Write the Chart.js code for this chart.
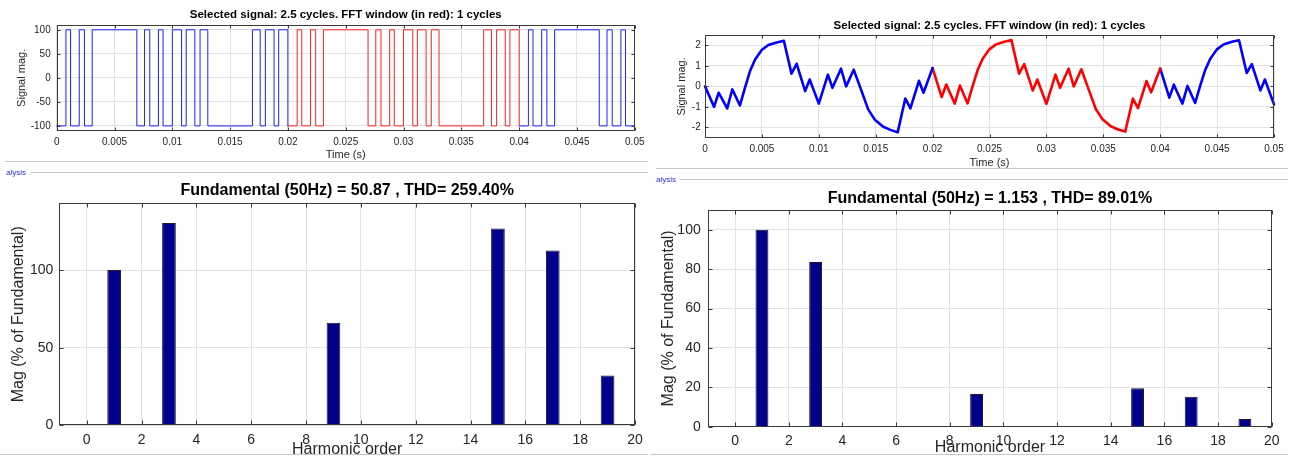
<!DOCTYPE html>
<html><head><meta charset="utf-8">
<script src="https://cdn.jsdelivr.net/npm/chart.js@4.4.1/dist/chart.umd.min.js"></script>
<style>
body{margin:0;width:1297px;height:458px;background:#fff;position:relative;overflow:hidden;font-family:'Liberation Sans',Arial,sans-serif}
canvas{position:absolute}
.hl{position:absolute;height:1px;background:#c8c8c8}
.tag{position:absolute;font-size:8px;line-height:9px;color:#3838d0;font-family:'Liberation Sans',Arial,sans-serif}
</style></head><body>
<div class="hl" style="left:5px;top:161px;width:643px"></div>
<div class="hl" style="left:31px;top:172px;width:617px"></div>
<div class="tag" style="left:6px;top:168px">alysis</div>
<div class="hl" style="left:656px;top:168px;width:632px"></div>
<div class="hl" style="left:680px;top:179px;width:608px"></div>
<div class="tag" style="left:656px;top:175px">alysis</div>
<div class="hl" style="left:0px;top:454px;width:648px"></div>
<div class="hl" style="left:650px;top:454px;width:638px"></div>

<canvas id="cA" width="650" height="162" style="left:0;top:0"></canvas>
<canvas id="cB" width="647" height="170" style="left:650px;top:0"></canvas>
<canvas id="cC" width="650" height="284" style="left:0;top:175px"></canvas>
<canvas id="cD" width="647" height="276" style="left:650px;top:182px"></canvas>
<script>
// ---------- DATA ----------
const timeTicks = [0, 0.005, 0.01, 0.015, 0.02, 0.025, 0.03, 0.035, 0.04, 0.045, 0.05];
const timeTickLabels = ['0', '0.005', '0.01', '0.015', '0.02', '0.025', '0.03', '0.035', '0.04', '0.045', '0.05'];
const fftWindow = [0.02, 0.04];

// left: PWM voltage, switching instants and level after each instant
const pwmSwitchTimes = [0, 0.0008, 0.0012, 0.00195, 0.0024, 0.00307, 0.00693, 0.0076, 0.00805, 0.0088, 0.0092,
  0.01, 0.0108, 0.0112, 0.01195, 0.0124, 0.01307, 0.01693, 0.0176, 0.01805, 0.0188, 0.0192, 0.02,
  0.0208, 0.0212, 0.02195, 0.0224, 0.02307, 0.02693, 0.0276, 0.02805, 0.0288, 0.0292,
  0.03, 0.0308, 0.0312, 0.03195, 0.0324, 0.03307, 0.03693, 0.0376, 0.03805, 0.0388, 0.0392, 0.04,
  0.0408, 0.0412, 0.04195, 0.0424, 0.04307, 0.04693, 0.0476, 0.04805, 0.0488, 0.0492, 0.05];
const pwmLevels = [-100, 100, -100, 100, -100, 100, -100, 100, -100, 100, -100,
  100, -100, 100, -100, 100, -100, 100, -100, 100, -100, 100, -100,
  100, -100, 100, -100, 100, -100, 100, -100, 100, -100,
  100, -100, 100, -100, 100, -100, 100, -100, 100, -100, 100, -100,
  100, -100, 100, -100, 100, -100, 100, -100, 100, -100, -100];
const pwmTicks = [-100, -50, 0, 50, 100];

// right: load current
const currTimes = [0, 0.0008, 0.0012, 0.00195, 0.0024, 0.00307, 0.00351, 0.00395, 0.00439, 0.00498, 0.00556, 0.0063, 0.00693,
  0.0076, 0.00805, 0.0088, 0.0092, 0.01, 0.0108, 0.0112, 0.01195, 0.0124, 0.01307, 0.01376, 0.01434, 0.01493, 0.01566, 0.0163, 0.01693, 0.0176, 0.01805, 0.0188, 0.0192, 0.02,
  0.0208, 0.0212, 0.02195, 0.0224, 0.02307, 0.02351, 0.02395, 0.02439, 0.02498, 0.02556, 0.0263, 0.02693,
  0.0276, 0.02805, 0.0288, 0.0292, 0.03, 0.0308, 0.0312, 0.03195, 0.0324, 0.03307, 0.03376, 0.03434, 0.03493, 0.03566, 0.0363, 0.03693, 0.0376, 0.03805, 0.0388, 0.0392, 0.04,
  0.0408, 0.0412, 0.04195, 0.0424, 0.04307, 0.04351, 0.04395, 0.04439, 0.04498, 0.04556, 0.0463, 0.04693, 0.0476, 0.04805, 0.0488, 0.0492, 0.05];
const currValues = [0, -1.0, -0.31, -1.07, -0.15, -0.93, -0.07, 0.73, 1.29, 1.77, 2.01, 2.14, 2.22,
  0.62, 1.1, -0.23, 0.33, -0.84, 0.57, -0.07, 0.86, 0.0, 0.81, -0.23, -1.12, -1.63, -1.97, -2.12, -2.24, -0.59, -1.07, 0.27, -0.31, 0.89,
  -0.52, 0.09, -0.84, 0.04, -0.83, 0.0, 0.78, 1.33, 1.8, 2.04, 2.17, 2.25,
  0.62, 1.08, -0.2, 0.33, -0.85, 0.57, -0.07, 0.86, 0.0, 0.83, -0.22, -1.1, -1.6, -1.94, -2.1, -2.2, -0.6, -1.06, 0.26, -0.29, 0.87,
  -0.55, 0.08, -0.84, 0.02, -0.81, 0.02, 0.79, 1.33, 1.8, 2.04, 2.17, 2.24, 0.65, 1.08, -0.2, 0.33, -0.88];
const currTicks = [-2, -1, 0, 1, 2];

// FFT spectra (% of fundamental)
const harmonicOrders = [0, 1, 2, 3, 4, 5, 6, 7, 8, 9, 10, 11, 12, 13, 14, 15, 16, 17, 18, 19, 20];
const magLeft  = [0, 100, 0, 130.3, 0, 0.6, 0, 0, 0, 66, 0, 0, 0, 0.5, 0, 126.8, 0, 112.6, 0, 32, 0];
const magRight = [0, 100, 0, 83.6, 0, 0, 0, 0, 0, 16.6, 0, 0, 0, 0, 0, 19.5, 0, 15.2, 0, 3.9, 0];
const harmTicks = [0, 2, 4, 6, 8, 10, 12, 14, 16, 18, 20];
const magLeftTicks = [0, 50, 100];
const magRightTicks = [0, 20, 40, 60, 80, 100];

const titleSignal = 'Selected signal: 2.5 cycles. FFT window (in red): 1 cycles';
const titleLeft = 'Fundamental (50Hz) = 50.87 , THD= 259.40%';
const titleRight = 'Fundamental (50Hz) = 1.153 , THD= 89.01%';

// ---------- HELPERS ----------
const FONT = "'Liberation Sans', Arial, Helvetica, sans-serif";
const TXT = '#262626';
const GRID = '#e2e2e2';

function segment(times, vals, a, b) {
  const out = [];
  for (let i = 0; i < times.length; i++) if (times[i] >= a && times[i] <= b) out.push({x: times[i], y: vals[i]});
  return out;
}

const frame = {
  id: 'frame',
  afterDraw(chart, args, o) {
    const {ctx, chartArea: a, scales: {x, y}} = chart;
    ctx.save();
    ctx.strokeStyle = o.color || '#3a3a3a';
    ctx.lineWidth = 1;
    const L = Math.round(a.left) + 0.5, R = Math.round(a.right) - 0.5, T = Math.round(a.top) + 0.5, B = Math.round(a.bottom) - 0.5;
    ctx.strokeRect(L, T, R - L, B - T);
    const len = o.len || 4;
    ctx.beginPath();
    x.ticks.forEach(t => {
      const p = Math.round(x.getPixelForValue(t.value)) + 0.5;
      ctx.moveTo(p, B); ctx.lineTo(p, B - len);
      ctx.moveTo(p, T); ctx.lineTo(p, T + len);
    });
    y.ticks.forEach(t => {
      const p = Math.round(y.getPixelForValue(t.value)) + 0.5;
      ctx.moveTo(L, p); ctx.lineTo(L + len, p);
      ctx.moveTo(R, p); ctx.lineTo(R - len, p);
    });
    ctx.stroke();
    ctx.restore();
  }
};

function signalChart(id, cfg) {
  return new Chart(document.getElementById(id), {
    type: 'line',
    data: {datasets: cfg.datasets},
    plugins: [frame],
    options: {
      responsive: false, animation: false, devicePixelRatio: 1,
      layout: {padding: {left: 0, right: cfg.padRight, top: 0, bottom: 0}},
      plugins: {
        legend: {display: false}, tooltip: {enabled: false},
        title: {display: true, text: titleSignal, fullSize: false, color: '#000',
          font: {family: FONT, size: 11.5, weight: 'bold', lineHeight: 1.2},
          padding: {top: cfg.titleTop, bottom: cfg.titleBottom}},
        frame: {len: 3}
      },
      scales: {
        x: {type: 'linear', min: 0, max: 0.05,
          afterBuildTicks: s => { s.ticks = timeTicks.map(v => ({value: v})); },
          afterFit: s => { s.height = cfg.xHeight; },
          ticks: {autoSkip: false, maxRotation: 0, padding: cfg.xTickPad, color: TXT, font: {family: FONT, size: 10},
            callback: (v, i) => timeTickLabels[i]},
          grid: {color: GRID, drawTicks: false}, border: {display: false},
          title: {display: true, text: 'Time (s)', color: TXT, font: {family: FONT, size: 11, lineHeight: 1.2}, padding: {top: 0, bottom: cfg.xTitleBottom}}
        },
        y: {type: 'linear', min: cfg.yMin, max: cfg.yMax,
          afterBuildTicks: s => { s.ticks = cfg.yTicks.map(v => ({value: v})); },
          afterFit: s => { s.width = cfg.yWidth; },
          ticks: {padding: cfg.yTickPad, color: TXT, font: {family: FONT, size: 10}, callback: v => String(v)},
          grid: {color: GRID, drawTicks: false}, border: {display: false},
          title: {display: true, text: 'Signal mag.', color: TXT, font: {family: FONT, size: 11, lineHeight: 1.2}, padding: {top: cfg.yTitleTop, bottom: 0}}
        }
      }
    }
  });
}

function spectrumChart(id, cfg) {
  return new Chart(document.getElementById(id), {
    type: 'bar',
    data: {datasets: [{
      data: harmonicOrders.map((h, i) => ({x: h, y: cfg.values[i]})),
      backgroundColor: '#00008b', borderColor: '#1a1a2a', borderWidth: 1, borderSkipped: 'bottom',
      barPercentage: cfg.barPct, categoryPercentage: 1
    }]},
    plugins: [frame],
    options: {
      responsive: false, animation: false, devicePixelRatio: 1,
      layout: {padding: {left: 0, right: cfg.padRight, top: 0, bottom: 0}},
      plugins: {
        legend: {display: false}, tooltip: {enabled: false},
        title: {display: true, text: cfg.title, fullSize: false, color: '#000',
          font: {family: FONT, size: 16, weight: 'bold', lineHeight: 1.2},
          padding: {top: cfg.titleTop, bottom: cfg.titleBottom}},
        frame: {len: 4}
      },
      scales: {
        x: {type: 'linear', min: -1, max: 20, offset: false,
          afterBuildTicks: s => { s.ticks = harmTicks.map(v => ({value: v})); },
          afterFit: s => { s.height = cfg.xHeight; },
          ticks: {autoSkip: false, maxRotation: 0, padding: cfg.xTickPad, color: TXT, font: {family: FONT, size: 14}, callback: v => String(v)},
          grid: {color: GRID, drawTicks: false, offset: false}, border: {display: false},
          title: {display: true, text: 'Harmonic order', color: TXT, font: {family: FONT, size: 16, lineHeight: 1.2}, padding: {top: 0, bottom: cfg.xTitleBottom}}
        },
        y: {type: 'linear', min: 0, max: cfg.yMax,
          afterBuildTicks: s => { s.ticks = cfg.yTicks.map(v => ({value: v})); },
          afterFit: s => { s.width = cfg.yWidth; },
          ticks: {padding: cfg.yTickPad, color: TXT, font: {family: FONT, size: 14}, callback: v => String(v)},
          grid: {color: GRID, drawTicks: false}, border: {display: false},
          title: {display: true, text: 'Mag (% of Fundamental)', color: TXT, font: {family: FONT, size: 16, lineHeight: 1.2}, padding: {top: cfg.yTitleTop, bottom: 0}}
        }
      }
    }
  });
}

function lineDs(data, color, w, stepped) {
  return {data, borderColor: color, borderWidth: w, pointRadius: 0, tension: 0, stepped: stepped ? 'before' : false,
    borderJoinStyle: 'round', borderCapStyle: 'round', fill: false, clip: 3};
}

// ---------- CHARTS ----------
signalChart('cA', {
  datasets: [
    lineDs(segment(pwmSwitchTimes, pwmLevels, 0, fftWindow[0]), '#1f1fff', 1, true),
    lineDs(segment(pwmSwitchTimes, pwmLevels, fftWindow[0], fftWindow[1]), '#ff2020', 1, true),
    lineDs(segment(pwmSwitchTimes, pwmLevels, fftWindow[1], 0.05), '#1f1fff', 1, true)
  ],
  padRight: 12, yWidth: 56.7, xHeight: 31.3, titleTop: 8.1, titleBottom: 3.1,
  xTickPad: 5.5, xTitleBottom: 0.4, yTickPad: 6, yTitleTop: 15.4,
  yMin: -110, yMax: 110, yTicks: pwmTicks
});

signalChart('cB', {
  datasets: [
    lineDs(segment(currTimes, currValues, 0, fftWindow[0]), '#0000ff', 2.6, false),
    lineDs(segment(currTimes, currValues, fftWindow[0], fftWindow[1]), '#ff0000', 2.6, false),
    lineDs(segment(currTimes, currValues, fftWindow[1], 0.05), '#0000ff', 2.6, false)
  ],
  padRight: 23, yWidth: 55, xHeight: 32.3, titleTop: 18.8, titleBottom: 2.4,
  xTickPad: 6, xTitleBottom: 0.1, yTickPad: 4.3, yTitleTop: 25.7,
  yMin: -2.5, yMax: 2.5, yTicks: currTicks
});

spectrumChart('cC', {
  values: magLeft, title: titleLeft, barPct: 0.5,
  padRight: 15, yWidth: 59.3, xHeight: 33.7, titleTop: 6.1, titleBottom: 3.0,
  xTickPad: 6.3, xTitleBottom: 0.1, yTickPad: 6, yTitleTop: 8.7,
  yMax: 143, yTicks: magLeftTicks
});

spectrumChart('cD', {
  values: magRight, title: titleRight, barPct: 0.48,
  padRight: 25.3, yWidth: 58.3, xHeight: 31.3, titleTop: 6.7, titleBottom: 2.1,
  xTickPad: 6.3, xTitleBottom: 0.7, yTickPad: 7.6, yTitleTop: 8.7,
  yMax: 110, yTicks: magRightTicks
});
</script>
</body></html>
